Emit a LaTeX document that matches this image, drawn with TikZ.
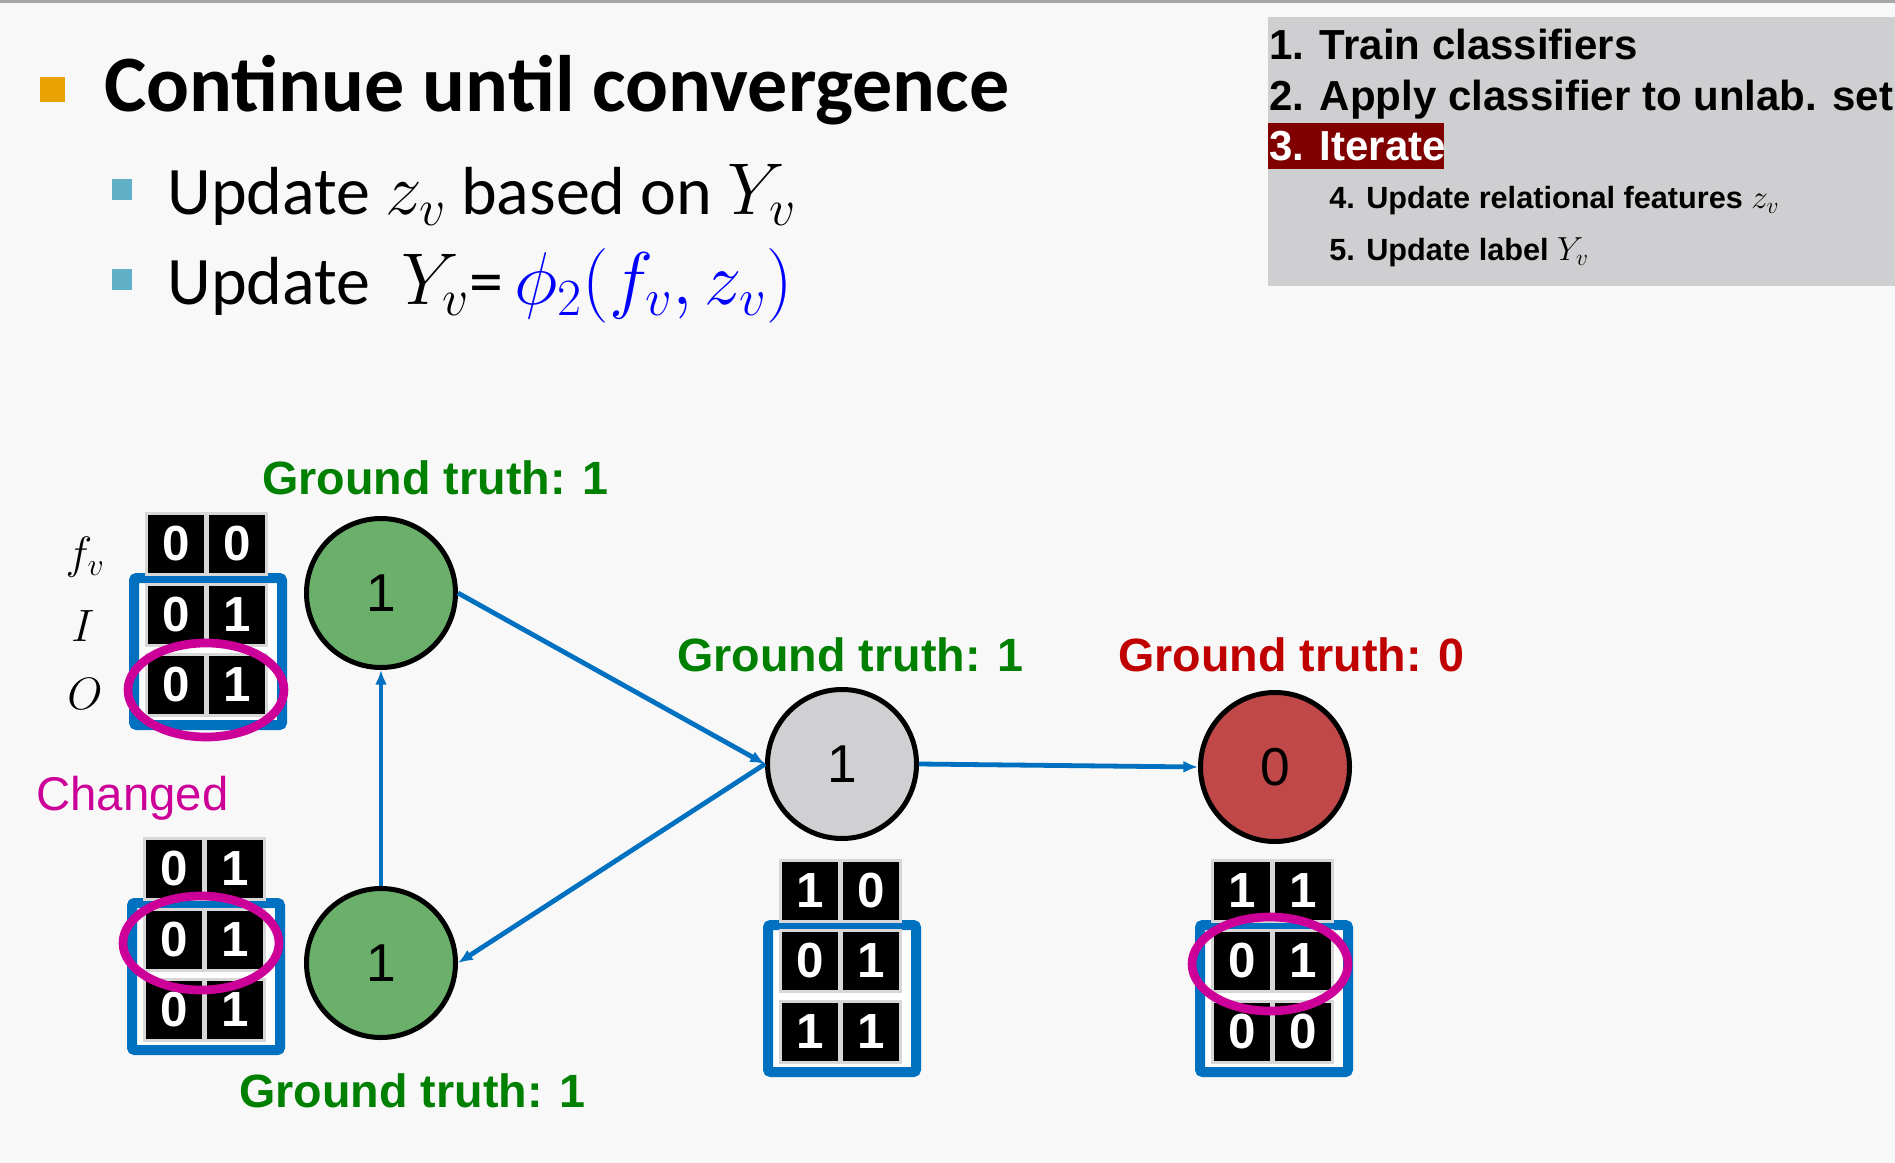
\documentclass[tikz,border=0pt]{standalone}
\usepackage{fix-cm}
\usepackage{fontspec}
\setmainfont{Liberation Sans}
\newfontfamily\calibrifont{Carlito}
\usetikzlibrary{arrows.meta}

\definecolor{slidebg}{RGB}{248,248,248}
\definecolor{boxgray}{RGB}{207,207,209}
\definecolor{iterred}{RGB}{128,0,0}
\definecolor{bulletorange}{RGB}{232,162,2}
\definecolor{bulletteal}{RGB}{96,176,200}
\definecolor{linkblue}{RGB}{0,112,192}
\definecolor{ringpink}{RGB}{204,0,153}
\definecolor{truthgreen}{RGB}{0,128,0}
\definecolor{truthred}{RGB}{192,0,0}
\definecolor{nodegreen}{RGB}{106,176,106}
\definecolor{nodegray}{RGB}{208,208,210}
\definecolor{nodered}{RGB}{192,72,72}
\definecolor{cellgray}{RGB}{215,215,215}

\tikzset{every picture/.style={line width=0.55pt}}
\tikzset{
  vertex/.style={circle, draw=black, line width=3.75pt, minimum size=111.75pt, inner sep=0pt, font=\fontsize{40}{40}\selectfont},
  cellbox/.style={rectangle, fill=black, draw=cellgray, line width=2pt, minimum width=44pt, minimum height=46pt, inner sep=0pt, text=white, font=\bfseries\fontsize{37}{37}\selectfont},
  regbox/.style={draw=linkblue, fill=white, line width=7.5pt, rounded corners=2pt},
  ring/.style={draw=ringpink, line width=6.5pt},
  link/.style={draw=linkblue, line width=3.6pt, -{Latex[length=11pt,width=9pt]}},
  truth/.style={anchor=base west, inner sep=0pt, font=\bfseries\fontsize{35}{35}\selectfont},
}

\begin{document}
\begin{tikzpicture}[x=0.75pt,y=0.75pt,yscale=-1,xscale=1]
\useasboundingbox (0,0) rectangle (1895,1163);
\fill [slidebg] (0,0) rectangle (1895,1163);
\draw [color=gray!70, line width=2.5pt] (0,1.5) -- (1895,1.5);
% bullets
\fill [bulletorange] (40,77) rectangle (65,102);
\fill [bulletteal] (112,179) rectangle (132,200);
\fill [bulletteal] (112,269) rectangle (132,290);
\draw (104,112) node [anchor=base west][inner sep=0pt][font=\calibrifont\bfseries\fontsize{60}{60}\selectfont] (title) {Continue until convergence};
\draw (167,214) node [anchor=base west][inner sep=0pt][font=\calibrifont\fontsize{51}{51}\selectfont] (upd1) {Update {\fontsize{55}{55}\selectfont$z_{v}$} based on {\fontsize{55}{55}\selectfont$Y_{v}$}};
\draw (167,304) node [anchor=base west][inner sep=0pt][font=\calibrifont\fontsize{51}{51}\selectfont] (upd2) {Update\ \ {\fontsize{55}{55}\selectfont$Y_{v}$}=\,{\color{blue}\fontsize{56}{56}\selectfont$\phi_{2}(f_{v}, z_{v})$}};
% steps box
\fill [boxgray] (1268,17) rectangle (1895,286);
\fill [iterred] (1268,123) rectangle (1444,169);
\draw (1269,60) node [anchor=base west][inner sep=0pt][font=\bfseries\fontsize{31.5}{31.5}\selectfont] (step1) {1. Train classifiers};
\draw (1269,110) node [anchor=base west][inner sep=0pt][font=\bfseries\fontsize{31.5}{31.5}\selectfont] (step2) {2. Apply classifier to unlab. set};
\draw (1269,160) node [anchor=base west][inner sep=0pt][text=white][font=\bfseries\fontsize{31.5}{31.5}\selectfont] (step3) {3. Iterate};
\draw (1329,208) node [anchor=base west][inner sep=0pt][font=\bfseries\fontsize{23}{23}\selectfont] (step4) {4. Update relational features {\fontsize{25}{25}\selectfont$z_{v}$}};
\draw (1329,260) node [anchor=base west][inner sep=0pt][font=\bfseries\fontsize{23}{23}\selectfont] (step5) {5. Update label {\fontsize{25}{25}\selectfont$Y_{v}$}};
% graph
\draw (381,593) node [vertex][fill=nodegreen] (vtop) {1};
\draw (381,963) node [vertex][fill=nodegreen] (vbot) {1};
\draw (842,764) node [vertex][fill=nodegray] (vmid) {1};
\draw (1275,767) node [vertex][fill=nodered] (vred) {0};
\draw [link] (vtop.east) -- (vmid.west);
\draw [link] (vmid.west) -- (vbot.east);
\draw [link] (vbot.north) -- (vtop.south);
\draw [link] (vmid.east) -- (vred.west);
\draw (262,494) node [truth][text=truthgreen] (gttop) {Ground truth: 1};
\draw (677,671) node [truth][text=truthgreen] (gtmid) {Ground truth: 1};
\draw (1118,671) node [truth][text=truthred] (gtred) {Ground truth: 0};
\draw (239,1107) node [truth][text=truthgreen] (gtbot) {Ground truth: 1};
\draw (36,810) node [anchor=base west][inner sep=0pt][text=ringpink][font=\fontsize{35.5}{35.5}\selectfont] (changed) {Changed};
\draw (85,557) node [inner sep=0pt][font=\fontsize{34}{34}\selectfont] (lblf) {$\displaystyle f_{v}$};
\draw (83,626) node [inner sep=0pt][font=\fontsize{34}{34}\selectfont] (lbli) {$\displaystyle I$};
\draw (85,694) node [inner sep=0pt][font=\fontsize{34}{34}\selectfont] (lblo) {$\displaystyle O$};
% feature tables
\draw [regbox] (134,578) rectangle (282,725);
\draw [regbox] (132,903) rectangle (280,1050);
\draw [regbox] (768,925) rectangle (916,1072);
\draw [regbox] (1200,925) rectangle (1348,1072);
\draw (176,544) node [cellbox] (t1a) {0};
\draw (237,544) node [cellbox] (t1b) {0};
\draw (176,615) node [cellbox] (t1c) {0};
\draw (237,615) node [cellbox] (t1d) {1};
\draw (176,685) node [cellbox] (t1e) {0};
\draw (237,685) node [cellbox] (t1f) {1};
\draw (174,869) node [cellbox] (t2a) {0};
\draw (235,869) node [cellbox] (t2b) {1};
\draw (174,940) node [cellbox] (t2c) {0};
\draw (235,940) node [cellbox] (t2d) {1};
\draw (174,1010) node [cellbox] (t2e) {0};
\draw (235,1010) node [cellbox] (t2f) {1};
\draw (810,891) node [cellbox] (t3a) {1};
\draw (871,891) node [cellbox] (t3b) {0};
\draw (810,961) node [cellbox] (t3c) {0};
\draw (871,961) node [cellbox] (t3d) {1};
\draw (810,1032) node [cellbox] (t3e) {1};
\draw (871,1032) node [cellbox] (t3f) {1};
\draw (1242,891) node [cellbox] (t4a) {1};
\draw (1303,891) node [cellbox] (t4b) {1};
\draw (1242,961) node [cellbox] (t4c) {0};
\draw (1303,961) node [cellbox] (t4d) {1};
\draw (1242,1032) node [cellbox] (t4e) {0};
\draw (1303,1032) node [cellbox] (t4f) {0};
% changed rows
\draw [ring] (206,690) ellipse (78 and 47);
\draw [ring] (201,943) ellipse (78 and 47);
\draw [ring] (1270,964) ellipse (78 and 47);
\end{tikzpicture}
\end{document}
